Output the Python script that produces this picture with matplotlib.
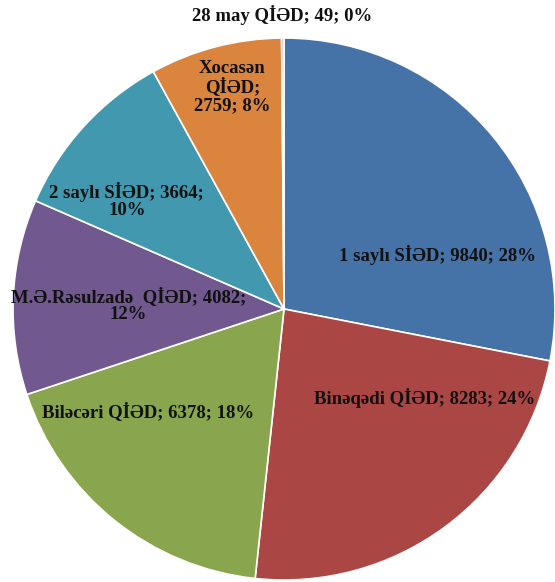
import matplotlib
matplotlib.use("Agg")
import matplotlib.pyplot as plt

categories = ["1 saylı SİƏD", "Binəqədi QİƏD", "Biləcəri QİƏD", "M.Ə.Rəsulzadə  QİƏD",
              "2 saylı SİƏD", "Xocasən QİƏD", "28 may QİƏD"]
values = [9840, 8283, 6378, 4082, 3664, 2759, 49]
colors = ["#4572A7", "#AA4643", "#89A54E", "#71588F", "#4198AF", "#DB843D", "#93A9CF"]

# label layout (text line breaks and positions in axes data units)
label_fmt = ["{c}; {v}; {p}", "{c}; {v}; {p}", "{c}; {v}; {p}", "{c}; {v};\n{p}",
             "{c}; {v};\n{p}", "Xocasən\nQİƏD;\n{v}; {p}", "{c}; {v}; {p}"]
label_pos = [(0.568, 0.199), (0.52, -0.33), (-0.50, -0.38), (-0.575, 0.015),
             (-0.58, 0.40), (-0.19, 0.82), (-0.007, 1.085)]

W, H = 555, 582
fig = plt.figure(figsize=(W / 100, H / 100), dpi=100)
cx, cy, r = 284, 309, 271
ax = fig.add_axes([(cx - r) / W, (H - cy - r) / H, 2 * r / W, 2 * r / H])
ax.pie(values, colors=colors, startangle=90, counterclock=False, radius=1,
       wedgeprops=dict(edgecolor="white", linewidth=1.2))
ax.set_xlim(-1, 1)
ax.set_ylim(-1, 1)
ax.set_aspect("auto")
ax.axis("off")

total = sum(values)
for c, v, fmt, (x, y) in zip(categories, values, label_fmt, label_pos):
    p = f"{round(100 * v / total)}%"
    ax.text(x, y, fmt.format(c=c, v=v, p=p), ha="center", va="center",
            fontsize=13.5, fontweight="bold", family=["Liberation Serif", "DejaVu Serif"],
            color="#111111", clip_on=False, linespacing=1.05)

fig.savefig("out.png", dpi=100)
